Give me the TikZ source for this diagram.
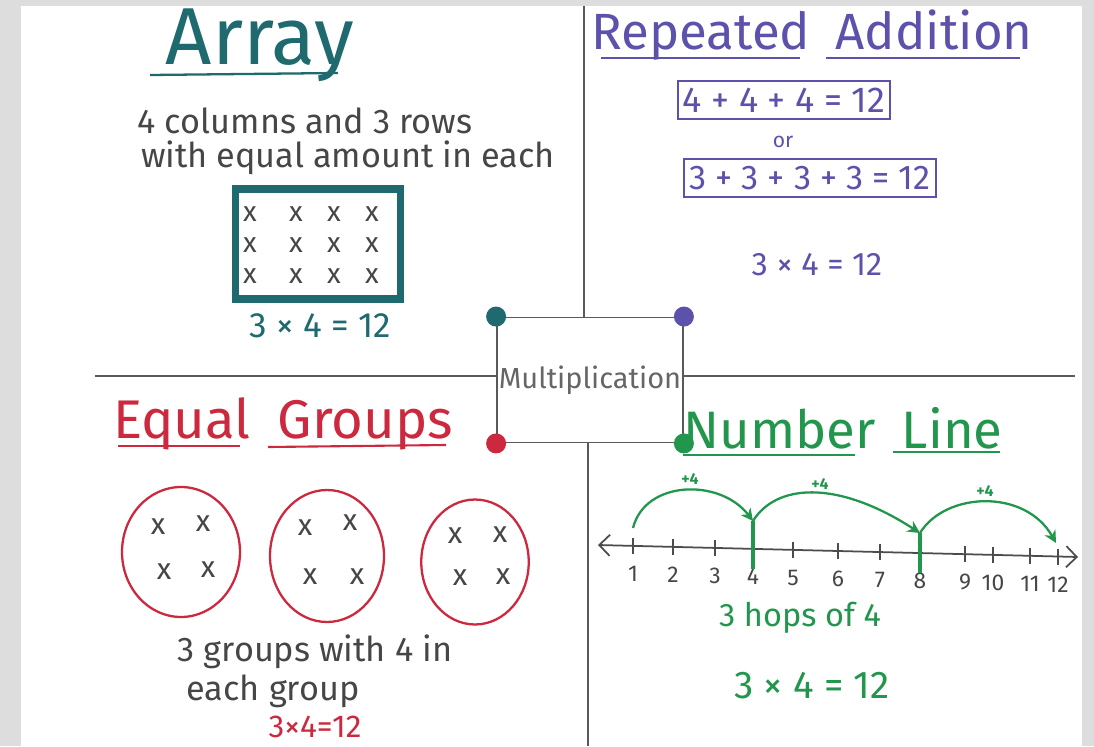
\documentclass[tikz,border=0pt]{standalone}
\usepackage{fontspec}
\setmainfont{Fira Sans}
\usepackage{xcolor}
\usetikzlibrary{arrows.meta, positioning, shapes.geometric, calc}
\definecolor{bggray}{RGB}{221,221,221}
\definecolor{notegray}{RGB}{70,70,70}
\definecolor{arraycol}{RGB}{30,106,110}
\definecolor{addcol}{RGB}{92,82,172}
\definecolor{groupcol}{RGB}{204,40,62}
\definecolor{linecol}{RGB}{34,150,76}

\begin{document}
\begin{tikzpicture}[x=0.02cm, y=-0.02cm,
    title/.style={font=\fontsize{29}{32}\selectfont, inner sep=0pt},
    note/.style={text=notegray, font=\fontsize{19.5}{22}\selectfont, inner sep=0pt},
    xmark/.style={text=notegray, font=\fontsize{17}{17}\selectfont, inner sep=0pt},
    eqn/.style={font=\fontsize{20}{22}\selectfont, inner sep=0pt},
    divider/.style={draw=black!65, line width=1.1pt},
    corner/.style={circle, minimum size=0.4cm, inner sep=0pt},
    group/.style={ellipse, draw=groupcol, line width=1.3pt},
    sumbox/.style={rectangle, draw=addcol, line width=1.1pt, text=addcol, font=\fontsize{20.5}{22}\selectfont, inner xsep=3pt, inner ysep=4pt},
    hop/.style={draw=linecol, line width=1.3pt, -{Stealth[length=7pt, width=7pt]}}
]
\fill[bggray] (0,0) rectangle (1094,746);
\fill[white] (21,6) rectangle (1082,746);

\node[rectangle, draw=black!65, line width=1.1pt, minimum width=3.6cm, minimum height=2.5cm, inner xsep=1pt, text=black!60, font=\fontsize{16.5}{18}\selectfont] (mult) at (590,380) {Multiplication};
\node[corner, fill=arraycol] (dot1) at (mult.north west) {};
\node[corner, fill=addcol] (dot2) at (mult.north east) {};
\node[corner, fill=groupcol] (dot3) at (mult.south west) {};
\node[corner, fill=linecol] (dot4) at (mult.south east) {};

\coordinate (top) at (584,6);
\coordinate (bottom) at (588,746);
\coordinate (left) at (95,376);
\coordinate (right) at (1075,376);
\draw[divider] (top) -- (top |- mult.north);
\draw[divider] (bottom) -- (bottom |- mult.south);
\draw[divider] (left) -- (left -| mult.west);
\draw[divider] (right) -- (right -| mult.east);

\node[title, text=arraycol, font=\fontsize{46}{50}\selectfont] (arraytitle) at (260,45) {Array};
\draw[arraycol, line width=1.3pt] (150,75) -- (338,73);
\node[note] (arraynote1) at (305,121) {4 columns and 3 rows};
\node[note] (arraynote2) at (348,158) {with equal amount in each};
\node[rectangle, draw=arraycol, line width=4pt, minimum width=3.3cm, minimum height=2.2cm] (arraybox) at (318,244) {};
\foreach \c/\xx in {1/250,2/296,3/334,4/372}
  \foreach \r/\yy in {1/214,2/245,3/276}
    \node[xmark, font=\fontsize{16}{16}\selectfont] (a\r\c) at (\xx,\yy) {x};
\node[eqn, text=arraycol] (arrayeq) at (320,326) {3 × 4 = 12};

\node[title, text=addcol] (addtitle) at (812,35) {Repeated\enspace Addition};
\draw[addcol, line width=1.2pt] (601,58) -- (800,58);
\draw[addcol, line width=1.2pt] (826,58) -- (1020,58);
\node[sumbox] (sum1) at (784,100) {4 + 4 + 4 = 12};
\node[text=addcol, font=\fontsize{12}{12}\selectfont, inner sep=0pt] (or) at (783,142) {or};
\node[sumbox, font=\fontsize{19.5}{22}\selectfont] (sum2) at (810,178) {3 + 3 + 3 + 3 = 12};
\node[eqn, text=addcol, font=\fontsize{18.5}{20}\selectfont] (addeq) at (817,265) {3 × 4 = 12};

\node[title, text=groupcol, font=\fontsize{31}{34}\selectfont] (grouptitle) at (283,424) {Equal\enspace Groups};
\draw[groupcol, line width=1.2pt] (118,446) -- (240,446);
\draw[groupcol, line width=1.2pt] (268,447) -- (446,445);
\node[group, minimum width=2.36cm, minimum height=2.6cm] (g1) at (181,552) {};
\node[group, minimum width=2.28cm, minimum height=2.64cm] (g2) at (327,556) {};
\node[group, minimum width=2.15cm, minimum height=2.5cm] (g3) at (475,562) {};
\node[xmark] (g1a) at (158,527) {x};
\node[xmark] (g1b) at (203,524) {x};
\node[xmark] (g1c) at (164,572) {x};
\node[xmark] (g1d) at (208,570) {x};
\node[xmark] (g2a) at (305,528) {x};
\node[xmark] (g2b) at (350,523) {x};
\node[xmark] (g2c) at (310,577) {x};
\node[xmark] (g2d) at (357,577) {x};
\node[xmark] (g3a) at (455,536) {x};
\node[xmark] (g3b) at (500,535) {x};
\node[xmark] (g3c) at (460,578) {x};
\node[xmark] (g3d) at (503,577) {x};
\node[note] (groupnote1) at (315,652) {3 groups with 4 in};
\node[note] (groupnote2) at (273,691) {each group};
\node[eqn, text=groupcol, font=\fontsize{18}{20}\selectfont] (groupeq) at (315,727) {3×4=12};

\node[title, text=linecol, font=\fontsize{30}{34}\selectfont] (linetitle) at (843,428) {Number\enspace Line};
\draw[linecol, line width=1.3pt] (683,455) -- (855,455);
\draw[linecol, line width=1.3pt] (893,452) -- (1000,452);
\coordinate (nlstart) at (598,545);
\coordinate (nlend) at (1078,557);
\draw[black!70, line width=1pt, {Straight Barb[length=6pt]}-{Straight Barb[length=6pt]}] (nlstart) -- (nlend);
\foreach \n/\xx in {1/633,2/673,3/715,4/753,5/793,6/838,7/880,8/920,9/965,10/993,11/1030,12/1058} {
  \pgfmathsetmacro\yy{545+(\xx-598)*0.025}
  \draw[black!70, line width=1pt] (\xx,\yy-8) -- (\xx,\yy+8);
  \node[text=notegray, font=\fontsize{13}{14}\selectfont, inner sep=0pt] (n\n) at (\xx,\yy+28) {\n};
}
\coordinate (h0) at (633,528);
\coordinate (h1) at (753,521);
\coordinate (h2) at (920,533);
\coordinate (h3) at (1056,543);
\draw[hop] (h0) .. controls (645,480) and (720,478) .. (h1);
\draw[hop] (h1) .. controls (775,485) and (835,478) .. (h2);
\draw[hop] (h2) .. controls (945,492) and (1025,488) .. (h3);
\draw[linecol, line width=2pt] (h1) -- (n4.north);
\draw[linecol, line width=2pt] (h2) -- (n8.north);
\node[text=linecol, font=\bfseries\fontsize{9}{10}\selectfont, inner sep=0pt] (p1) at (690,479) {+4};
\node[text=linecol, font=\bfseries\fontsize{9}{10}\selectfont, inner sep=0pt] (p2) at (820,484) {+4};
\node[text=linecol, font=\bfseries\fontsize{9}{10}\selectfont, inner sep=0pt] (p3) at (985,491) {+4};
\node[eqn, text=linecol, font=\fontsize{18.5}{20}\selectfont] (hops) at (800,618) {3 hops of 4};
\node[eqn, text=linecol, font=\fontsize{22}{24}\selectfont] (lineeq) at (812,686) {3 × 4 = 12};
\end{tikzpicture}
\end{document}
